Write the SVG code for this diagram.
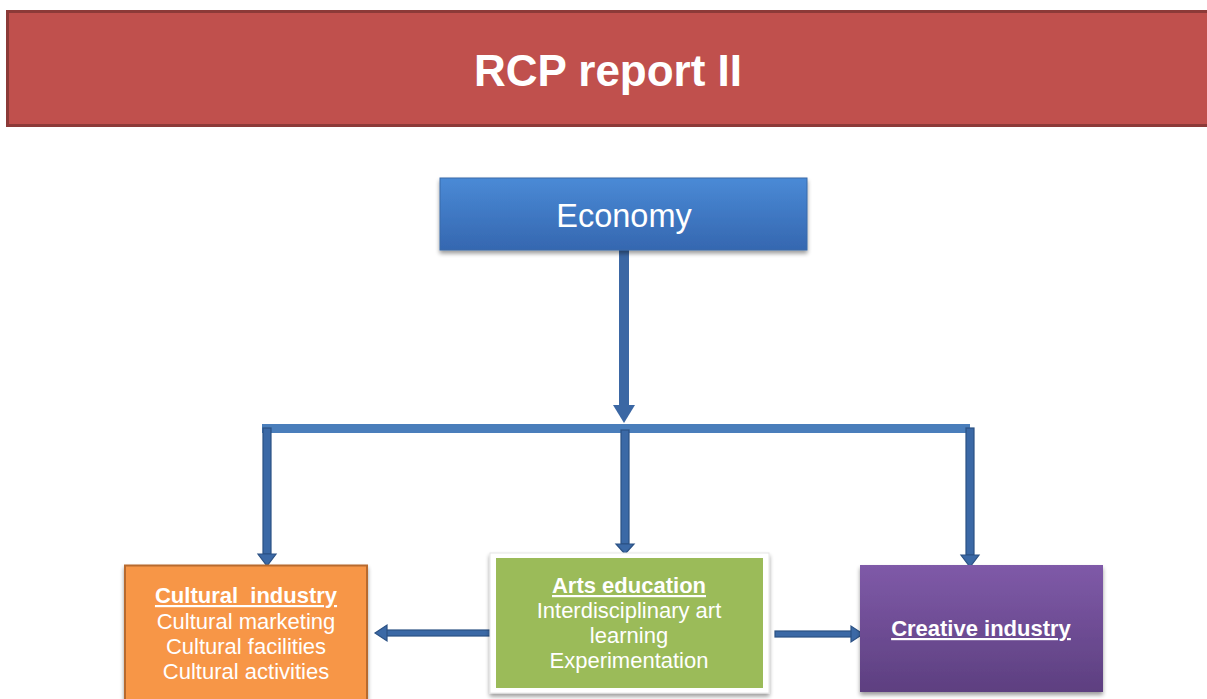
<svg xmlns="http://www.w3.org/2000/svg" width="1207" height="699" viewBox="0 0 1207 699">
<defs>
<linearGradient id="gBlue" x1="0" y1="0" x2="0" y2="1">
<stop offset="0" stop-color="#4a8ad6"/>
<stop offset="1" stop-color="#3567b0"/>
</linearGradient>
<linearGradient id="gPurple" x1="0" y1="0" x2="0" y2="1">
<stop offset="0" stop-color="#7f5aa8"/>
<stop offset="1" stop-color="#5d3f80"/>
</linearGradient>
<filter id="sh" x="-10%" y="-10%" width="120%" height="130%">
<feGaussianBlur in="SourceAlpha" stdDeviation="2"/>
<feOffset dx="0" dy="3" result="b"/>
<feComponentTransfer><feFuncA type="linear" slope="0.4"/></feComponentTransfer>
<feMerge><feMergeNode/><feMergeNode in="SourceGraphic"/></feMerge>
</filter>
</defs>
<style>
text{font-family:"Liberation Sans",Arial,sans-serif;fill:#ffffff;text-anchor:middle;white-space:pre}
.b{font-weight:bold}
.u{text-decoration:underline}
.branch{fill:#3b69a6;stroke:#2b5184;stroke-width:1.2}
</style>
<rect width="1207" height="699" fill="#ffffff"/>
<g id="title">
<rect x="7.5" y="11.5" width="1210" height="114" fill="#c0504d" stroke="#8c3a38" stroke-width="3"/>
<text x="608" y="86" class="b" font-size="44">RCP report II</text>
</g>
<g id="connectors">
<rect x="619" y="250" width="10" height="156" fill="#3b67a4"/>
<polygon points="613,405 635,405 624,423" fill="#3b67a4"/>
<rect x="262" y="424" width="708" height="9" fill="#4a7ebb"/>
<rect class="branch" x="263" y="428" width="8" height="126"/>
<polygon class="branch" points="258,554 276,554 267,566"/>
<rect class="branch" x="621" y="430" width="8" height="114"/>
<polygon class="branch" points="616,544 634,544 625,554"/>
<rect class="branch" x="966" y="428" width="8" height="127"/>
<polygon class="branch" points="961,555 979,555 970,567"/>
<rect class="branch" x="386" y="630" width="107" height="6"/>
<polygon class="branch" points="387,625 387,641 375,633"/>
<rect class="branch" x="775" y="631" width="77" height="6"/>
<polygon class="branch" points="851,626 851,642 863,634"/>
</g>
<g id="economy">
<rect x="440" y="178" width="367" height="72" fill="url(#gBlue)" stroke="#3a6aa8" stroke-width="1" filter="url(#sh)"/>
<text x="624" y="227" font-size="32.5">Economy</text>
</g>
<g id="cultural-industry">
<rect x="125" y="565.5" width="242" height="140" fill="#f79646" stroke="#b86a2e" stroke-width="2" filter="url(#sh)"/>
<text x="246" y="603" font-size="22" class="b u" xml:space="preserve">Cultural  industry</text>
<text x="246" y="629" font-size="22">Cultural marketing</text>
<text x="246" y="654" font-size="22">Cultural facilities</text>
<text x="246" y="679" font-size="22">Cultural activities</text>
</g>
<g id="arts-education">
<rect x="490" y="553" width="279" height="140" fill="#ffffff" stroke="#e6e6e6" stroke-width="1" filter="url(#sh)"/>
<rect x="496" y="558" width="267" height="130" fill="#9bbb59"/>
<text x="629" y="593" font-size="22" class="b u">Arts education</text>
<text x="629" y="618" font-size="22">Interdisciplinary art</text>
<text x="629" y="643" font-size="22">learning</text>
<text x="629" y="668" font-size="22">Experimentation</text>
</g>
<g id="creative-industry">
<rect x="860" y="565" width="243" height="127" fill="url(#gPurple)" filter="url(#sh)"/>
<text x="981" y="636" font-size="22" class="b u">Creative industry</text>
</g>
</svg>
